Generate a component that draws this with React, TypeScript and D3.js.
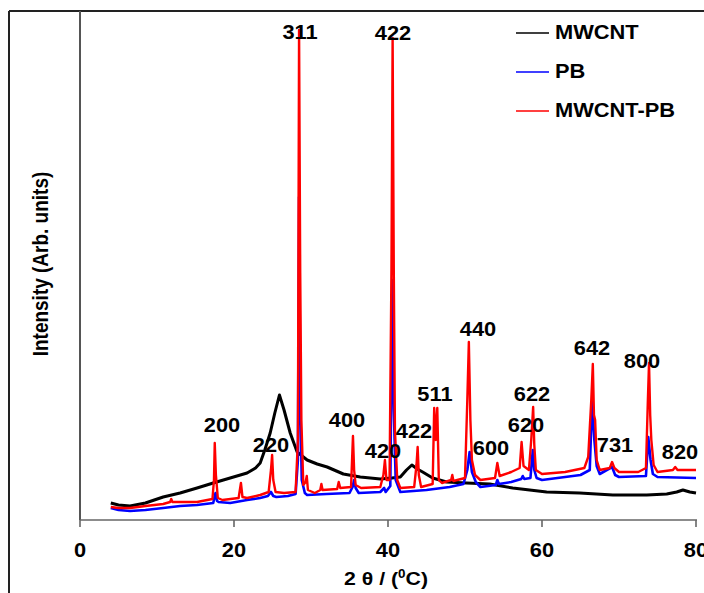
import React from "react";
import * as d3 from "d3";

// 2θ (degrees) vs intensity (arb. units)
const mwcnt: [number, number][] = [
  [4.0, 17], [5, 15], [6.5, 14], [8.5, 17], [10.8, 23], [13, 27], [15.2, 32], [17.3, 37],
  [19.5, 42], [21.7, 47], [22.8, 52], [23.4, 57], [24.0, 70], [24.7, 87], [25.3, 107],
  [25.9, 125], [26.5, 110], [27.3, 87], [28.2, 68], [29.5, 60], [30.8, 56], [32.1, 53],
  [34.2, 46], [36.4, 43], [39, 41], [40.5, 42], [41.6, 43], [42.4, 50], [43.1, 55],
  [43.8, 51], [44.5, 48], [45.8, 42], [47.6, 38], [50.2, 37], [53.2, 36], [56.2, 32],
  [60.6, 28], [64.9, 27], [69.2, 25], [73.6, 25], [76.2, 26], [77.5, 28], [78.3, 30],
  [79.2, 28], [80, 27],
];

const pb: [number, number][] = [
  [4.0, 12], [5, 10], [6.5, 9], [8.5, 10], [10.8, 12], [13, 14], [15.2, 15], [17.3, 17],
  [17.45, 22], [17.6, 27], [17.8, 19], [18, 18], [19.5, 17], [21.7, 20], [23.4, 22],
  [24.4, 24], [24.8, 28], [25.1, 24], [25.5, 23], [27, 24], [28.0, 26], [28.3, 60],
  [28.45, 323], [28.6, 120], [28.8, 40], [29.2, 27], [29.5, 25], [32, 26], [35, 27],
  [35.4, 33], [35.6, 40], [35.8, 32], [36.2, 27], [39, 28], [39.5, 32], [39.7, 28],
  [40.3, 34], [40.55, 240], [40.75, 110], [41, 40], [41.6, 28], [45, 30], [48, 33],
  [49.8, 36], [50.3, 50], [50.6, 68], [50.9, 48], [51.4, 38], [52, 33], [54, 35],
  [54.2, 40], [54.4, 36], [56, 38], [57.3, 41], [57.5, 44], [57.7, 41], [58.5, 42],
  [58.8, 70], [59.0, 50], [59.3, 42], [60, 40], [63, 43], [65, 45], [66.2, 50],
  [66.5, 118], [66.8, 80], [67.1, 54], [67.5, 46], [69.1, 53], [69.5, 45], [70, 43],
  [73.5, 44], [73.8, 83], [74.1, 60], [74.4, 46], [75, 43], [80, 42],
];

const mwcntPb: [number, number][] = [
  [4.0, 13], [5, 12], [6.5, 12], [8.5, 14], [10.8, 16], [11.7, 18], [11.85, 21], [12, 18],
  [13.5, 18], [15.2, 18], [17.2, 21], [17.4, 40], [17.5, 77], [17.65, 45], [17.9, 22],
  [18.5, 20], [20.6, 22], [20.9, 37], [21.1, 23], [21.7, 22], [23.4, 25], [24.5, 28],
  [24.8, 50], [24.95, 65], [25.1, 40], [25.4, 28], [26.5, 27], [28.0, 28], [28.3, 80],
  [28.45, 490], [28.6, 247], [28.75, 100], [29.0, 35], [29.3, 38], [29.45, 44], [29.6, 30],
  [30.5, 27], [31.2, 30], [31.35, 36], [31.5, 30], [33.4, 31], [33.6, 38], [33.8, 32],
  [35.2, 33], [35.45, 84], [35.6, 50], [35.8, 35], [36.5, 32], [39, 33], [39.4, 45],
  [39.6, 60], [39.8, 40], [40.2, 40], [40.45, 252], [40.6, 482], [40.75, 252], [40.9, 90],
  [41.2, 40], [41.6, 32], [43.4, 33], [43.7, 55], [43.85, 73], [44.0, 45], [44.3, 33],
  [45.8, 36], [46.0, 112], [46.2, 80], [46.4, 112], [46.6, 40], [47, 37], [48.2, 40],
  [48.35, 45], [48.5, 39], [50.0, 42], [50.3, 120], [50.5, 178], [50.7, 100], [50.9, 60],
  [51.3, 45], [52, 40], [53.9, 42], [54.2, 57], [54.5, 44], [56, 48], [57.1, 52],
  [57.35, 78], [57.6, 54], [58.3, 50], [58.6, 80], [58.85, 113], [59.0, 75], [59.2, 50],
  [60, 46], [63, 48], [65.5, 52], [66.0, 63], [66.4, 120], [66.6, 156], [66.75, 105],
  [66.9, 100], [67.1, 60], [67.5, 50], [68.8, 52], [69.1, 58], [69.4, 52], [70, 48],
  [72.5, 48], [73.5, 52], [73.75, 120], [73.9, 157], [74.05, 105], [74.2, 80], [74.5, 55],
  [75, 48], [77.0, 50], [77.3, 53], [77.6, 50], [80, 50],
];

// Miller index annotations: [label, 2θ, intensity]
const peakLabels: [string, number, number][] = [
  ["311", 28.57, 481], ["422", 40.65, 480], ["200", 18.44, 88], ["220", 24.8, 68],
  ["400", 34.68, 93], ["420", 39.35, 62], ["422", 43.38, 82], ["511", 46.1, 119],
  ["440", 51.69, 184], ["600", 53.38, 65], ["622", 58.7, 119], ["620", 57.92, 88],
  ["642", 66.49, 165], ["800", 72.99, 152], ["731", 69.48, 68], ["820", 77.92, 61],
];

const xTicks = [0, 20, 40, 60, 80];
const seriesNames = ["MWCNT", "PB", "MWCNT-PB"];
const seriesColors = ["#000000", "#0000ff", "#ff0000"];

const FONT = "'Liberation Sans', Arial, Helvetica, sans-serif";
const SX = 1.12;

export default function App() {
  const x = d3.scaleLinear().domain([0, 80]).range([80, 696]);
  const y = d3.scaleLinear().domain([0, 510]).range([520, 10]);
  const line = d3
    .line<[number, number]>()
    .x((d) => x(d[0]))
    .y((d) => y(d[1]));
  const series = [mwcnt, pb, mwcntPb];
  const widths = [3, 2.6, 2.4];

  return (
    <svg
      width={704}
      height={593}
      style={{ position: "absolute", left: 0, top: 0, background: "#fff" }}
      fontFamily={FONT}
      fontWeight="bold"
    >
      <rect x={0} y={0} width={704} height={593} fill="#fff" />
      {/* outer frame */}
      <line x1={9} y1={11} x2={704} y2={11} stroke="#222" strokeWidth={2} />
      <line x1={9} y1={11} x2={9} y2={593} stroke="#222" strokeWidth={2} />
      {/* axes */}
      <line x1={80} y1={11} x2={80} y2={520} stroke="#555" strokeWidth={2} />
      <line x1={80} y1={520} x2={697} y2={520} stroke="#666" strokeWidth={1.6} />
      {xTicks.map((t) => (
        <g key={t}>
          <line x1={x(t)} y1={520} x2={x(t)} y2={527} stroke="#666" strokeWidth={1.6} />
          <text
            transform={`translate(${x(t)},557) scale(${SX},1)`}
            textAnchor="middle"
            fontSize={19.5}
            fill="#000"
          >
            {t}
          </text>
        </g>
      ))}
      {/* series */}
      {series.map((s, i) => (
        <path
          key={i}
          d={line(s) || ""}
          fill="none"
          stroke={seriesColors[i]}
          strokeWidth={widths[i]}
          strokeLinejoin="round"
        />
      ))}
      {/* peak labels */}
      {peakLabels.map(([t, px, py], i) => (
        <text
          key={i}
          transform={`translate(${x(px)},${y(py)}) scale(${SX},1)`}
          textAnchor="middle"
          fontSize={19.5}
          fill="#000"
        >
          {t}
        </text>
      ))}
      {/* legend */}
      {seriesNames.map((n, i) => (
        <g key={n}>
          <line
            x1={516}
            x2={549}
            y1={33 + i * 39}
            y2={33 + i * 39}
            stroke={seriesColors[i]}
            strokeWidth={1.5}
          />
          <text
            transform={`translate(555,${39 + i * 39}) scale(${SX},1)`}
            fontSize={19.5}
            fill="#000"
          >
            {n}
          </text>
        </g>
      ))}
      {/* axis titles */}
      <text
        transform={`translate(386,585) scale(${SX},1)`}
        textAnchor="middle"
        fontSize={19}
        fill="#000"
      >
        2 θ / (<tspan fontSize={12} dy={-7}>0</tspan>
        <tspan dy={7}>C)</tspan>
      </text>
      <text
        transform={`translate(48,264) rotate(-90) scale(1,${SX})`}
        textAnchor="middle"
        fontSize={19}
        fill="#000"
      >
        Intensity (Arb. units)
      </text>
    </svg>
  );
}
